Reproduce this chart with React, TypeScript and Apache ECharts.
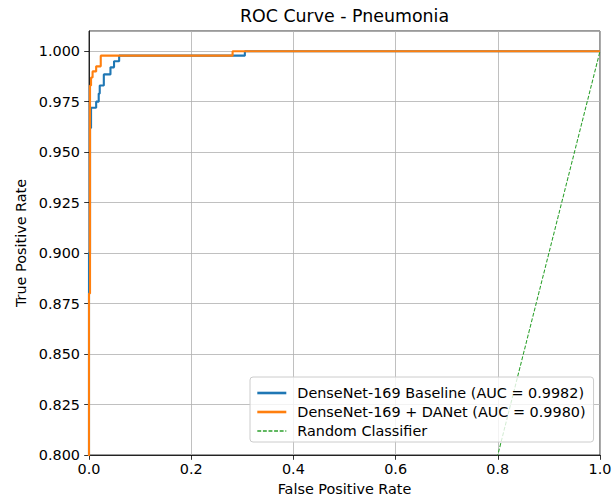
import React, { useEffect, useRef } from "react";
import * as echarts from "echarts";

const seriesNames = [
  "DenseNet-169 Baseline (AUC = 0.9982)",
  "DenseNet-169 + DANet (AUC = 0.9980)",
  "Random Classifier",
];

const fprBaseline = [0, 0, 0.002, 0.002, 0.004, 0.004, 0.014, 0.014, 0.019, 0.019, 0.021, 0.021, 0.029, 0.029, 0.042, 0.042, 0.049, 0.049, 0.059, 0.059, 0.305, 0.305, 1];
const tprBaseline = [0, 0.9, 0.9, 0.962, 0.962, 0.972, 0.972, 0.975, 0.975, 0.979, 0.979, 0.983, 0.983, 0.9885, 0.9885, 0.992, 0.992, 0.995, 0.995, 0.9978, 0.9978, 1, 1];

const fprDanet = [0, 0, 0.002, 0.002, 0.004, 0.004, 0.007, 0.007, 0.014, 0.014, 0.023, 0.023, 0.281, 0.281, 1];
const tprDanet = [0, 0.88, 0.88, 0.983, 0.983, 0.987, 0.987, 0.99, 0.99, 0.9925, 0.9925, 0.9978, 0.9978, 1, 1];

const fprRandom = [0, 1];
const tprRandom = [0, 1];

const xTicks = { min: 0, max: 1, interval: 0.2 };
const yTicks = { min: 0.8, max: 1.01, interval: 0.025 };

const FONT = "DejaVu Sans";
const FS = 14.4;

const pairs = (xs: number[], ys: number[]) => xs.map((x, i) => [x, ys[i]]);

export default function App() {
  const ref = useRef<HTMLDivElement>(null);
  useEffect(() => {
    document.body.style.margin = "0";
    const chart = echarts.init(ref.current!, undefined, { renderer: "svg" });
    const left = 89;
    const right = 600;
    const top = 31;
    const bottom = 455;
    chart.setOption({
      animation: false,
      backgroundColor: "#ffffff",
      textStyle: { fontFamily: FONT },
      graphic: [
        {
          type: "text",
          x: (left + right) / 2,
          y: 16,
          style: {
            text: "ROC Curve - Pneumonia",
            fontFamily: FONT,
            fontSize: 17.4,
            fill: "#000",
            textAlign: "center",
            textVerticalAlign: "middle",
          },
        },
      ],
      grid: {
        left,
        right: 616 - right,
        top,
        bottom: 501 - bottom,
        outerBoundsMode: "none",
        show: true,
        borderColor: "#000",
        borderWidth: 0.8,
        backgroundColor: "transparent",
      },
      legend: {
        data: [
          { name: seriesNames[0], lineStyle: { width: 2.6 } },
          { name: seriesNames[1], lineStyle: { width: 2.6 } },
          { name: seriesNames[2], lineStyle: { width: 1.3 } },
        ],
        orient: "vertical",
        left: 250,
        top: 377,
        itemWidth: 29,
        itemHeight: 14,
        itemGap: 5,
        padding: [9, 8, 4, 6],
        borderColor: "#cccccc",
        borderWidth: 1,
        borderRadius: 3,
        backgroundColor: "rgba(255,255,255,0.8)",
        itemStyle: { opacity: 0 },
        textStyle: { fontFamily: FONT, fontSize: FS, color: "#000", padding: [0, 0, 0, 6] },
      },
      xAxis: {
        type: "value",
        min: xTicks.min,
        max: xTicks.max,
        interval: xTicks.interval,
        name: "False Positive Rate",
        nameLocation: "middle",
        nameGap: 27,
        nameTextStyle: { fontFamily: FONT, fontSize: FS, color: "#000" },
        axisLine: { show: true, lineStyle: { color: "#000", width: 0.8 } },
        axisTick: { show: true, length: 4.8, lineStyle: { color: "#000", width: 0.8 } },
        axisLabel: {
          fontFamily: FONT,
          fontSize: FS,
          color: "#000",
          margin: 7,
          formatter: (v: number) => v.toFixed(1),
        },
        splitLine: { show: true, lineStyle: { color: "#b0b0b0", width: 0.8 } },
      },
      yAxis: {
        type: "value",
        min: yTicks.min,
        max: yTicks.max,
        interval: yTicks.interval,
        name: "True Positive Rate",
        nameLocation: "middle",
        nameGap: 59,
        nameTextStyle: { fontFamily: FONT, fontSize: FS, color: "#000" },
        axisLine: { show: true, lineStyle: { color: "#000", width: 0.8 } },
        axisTick: { show: true, length: 4.8, lineStyle: { color: "#000", width: 0.8 } },
        axisLabel: {
          fontFamily: FONT,
          fontSize: FS,
          color: "#000",
          margin: 9,
          showMaxLabel: false,
          formatter: (v: number) => (Math.abs(v - 1.01) < 1e-9 ? "" : v.toFixed(3)),
        },
        splitLine: { show: true, lineStyle: { color: "#b0b0b0", width: 0.8 } },
      },
      series: [
        {
          name: seriesNames[0],
          type: "line",
          data: pairs(fprBaseline, tprBaseline),
          showSymbol: false,
          symbol: "none",
          clip: true,
          color: "#1f77b4",
          lineStyle: { color: "#1f77b4", width: 2.1 },
        },
        {
          name: seriesNames[1],
          type: "line",
          data: pairs(fprDanet, tprDanet),
          showSymbol: false,
          symbol: "none",
          clip: true,
          color: "#ff7f0e",
          lineStyle: { color: "#ff7f0e", width: 2.1 },
        },
        {
          name: seriesNames[2],
          type: "line",
          data: pairs(fprRandom, tprRandom),
          showSymbol: false,
          symbol: "none",
          clip: true,
          color: "#2ca02c",
          lineStyle: { color: "#2ca02c", width: 1.05, type: [3.9, 1.7] },
        },
      ],
    });
    return () => chart.dispose();
  }, []);
  return <div ref={ref} style={{ width: 616, height: 501 }} />;
}
